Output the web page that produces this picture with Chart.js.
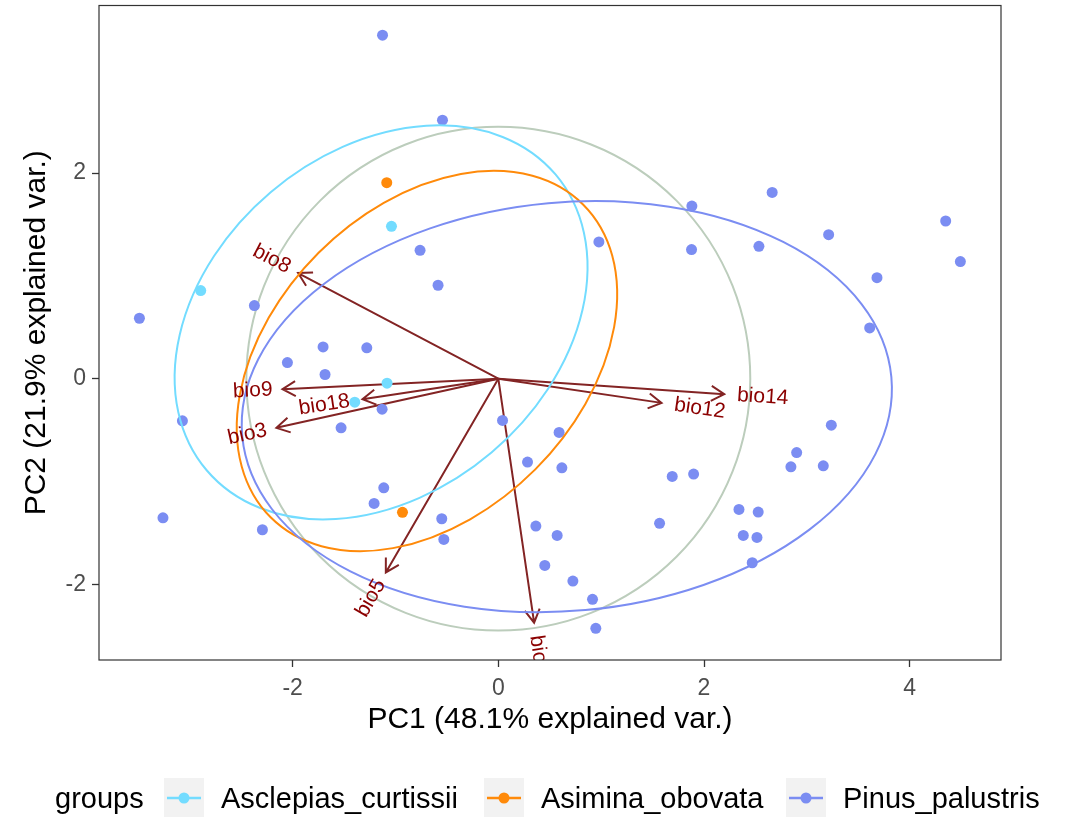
<!DOCTYPE html>
<html>
<head>
<meta charset="utf-8">
<script src="https://cdn.jsdelivr.net/npm/chart.js@4"></script>
<style>
  body { margin: 0; background: #fff; }
  #wrap { width: 1074px; height: 817px; }
</style>
</head>
<body>
<div id="wrap"><canvas id="pca-chart"></canvas></div>
<script>
// groups + colours
const groups = ['Asclepias_curtissii', 'Asimina_obovata', 'Pinus_palustris'];
const groupColors = ['#73DCFF', '#FF8A0A', '#7B8DF2'];

// sample scores (PC1, PC2)
const asclepiasPC1 = [-1.039, -2.894, -1.082, -1.396];
const asclepiasPC2 = [1.482, 0.857, -0.044, -0.228];
const asiminaPC1 = [-1.085, -0.932];
const asiminaPC2 = [1.907, -1.300];
const pinusPC1 = [-1.126, -0.543, -0.761, -0.586, -2.372, -3.490, 1.882, 2.663, 0.978, 1.879,
  2.534, 3.212, 4.350, 4.493, 3.682, 3.611, -1.704, -1.279, -2.051, -1.685,
  -1.130, -1.529, -3.072, 0.041, -1.114, -1.208, -0.550, -0.530, -3.261, -2.294,
  0.591, 0.284, 0.618, 1.691, 1.899, 1.568, 0.365, 0.572, 0.452, 0.725,
  0.916, 0.948, 3.238, 2.901, 2.845, 3.160, 2.340, 2.527, 2.382, 2.515, 2.469];
const pinusPC2 = [3.341, 2.515, 1.249, 0.909, 0.711, 0.588, 1.679, 1.812, 1.330, 1.256,
  1.288, 1.401, 1.534, 1.139, 0.983, 0.494, 0.309, 0.300, 0.157, 0.041,
  -0.296, -0.478, -0.410, -0.406, -1.061, -1.213, -1.362, -1.563, -1.353, -1.469,
  -0.523, -0.811, -0.867, -0.951, -0.928, -1.407, -1.433, -1.524, -1.816, -1.968,
  -2.146, -2.428, -0.452, -0.718, -0.857, -0.847, -1.272, -1.297, -1.524, -1.544, -1.790];

// variable loadings (arrow tips)
const varNames = ['bio8', 'bio9', 'bio18', 'bio3', 'bio5', 'bio15', 'bio12', 'bio14'];
const varPC1 = [-1.947, -2.099, -1.321, -2.158, -1.094, 0.348, 1.587, 2.197];
const varPC2 = [1.028, -0.102, -0.199, -0.478, -1.884, -2.373, -0.235, -0.151];

// group ellipses: centre, semi axes, tilt (deg), one per group
const ellipseCX = [-1.140, -0.694, 0.666];
const ellipseCY = [0.548, 0.172, -0.272];
const ellipseA = [2.224, 2.150, 3.169];
const ellipseB = [1.660, 1.490, 1.987];
const ellipseAngle = [40.3, 45.0, 5.2];
const circleRadius = 2.45;

const xTicks = [-2, 0, 2, 4];
const yTicks = [-2, 0, 2];

const FONT = "'Liberation Sans', Arial, Helvetica, sans-serif";

function toPoints(xs, ys) {
  return xs.map(function(v, i) { return {x: v, y: ys[i]}; });
}

const pcaOverlay = {
  id: 'pcaOverlay',
  beforeDatasetsDraw: function(chart) {
    const ctx = chart.ctx, xs = chart.scales.x, ys = chart.scales.y, area = chart.chartArea;
    ctx.save();
    ctx.beginPath();
    ctx.rect(area.left, area.top, area.right - area.left, area.bottom - area.top);
    ctx.clip();
    // correlation circle
    drawEllipse(chart, 0, 0, circleRadius, circleRadius, 0, '#BCCDBC');
    // arrows
    const x0 = xs.getPixelForValue(0), y0 = ys.getPixelForValue(0);
    ctx.strokeStyle = '#832424';
    ctx.lineWidth = 2;
    ctx.lineCap = 'butt';
    for (let i = 0; i < varNames.length; i++) {
      const x1 = xs.getPixelForValue(varPC1[i]), y1 = ys.getPixelForValue(varPC2[i]);
      const ang = Math.atan2(y1 - y0, x1 - x0);
      const len = 15, spread = Math.PI / 6;
      ctx.beginPath();
      ctx.moveTo(x0, y0);
      ctx.lineTo(x1, y1);
      ctx.moveTo(x1 - len * Math.cos(ang - spread), y1 - len * Math.sin(ang - spread));
      ctx.lineTo(x1, y1);
      ctx.lineTo(x1 - len * Math.cos(ang + spread), y1 - len * Math.sin(ang + spread));
      ctx.stroke();
    }
    ctx.restore();
  },
  afterDatasetsDraw: function(chart) {
    const ctx = chart.ctx, xs = chart.scales.x, ys = chart.scales.y, area = chart.chartArea;
    ctx.save();
    ctx.beginPath();
    ctx.rect(area.left, area.top, area.right - area.left, area.bottom - area.top);
    ctx.clip();
    for (let g = 0; g < groups.length; g++) {
      drawEllipse(chart, ellipseCX[g], ellipseCY[g], ellipseA[g], ellipseB[g], ellipseAngle[g], groupColors[g]);
    }
    // variable names, ggbiplot style (rotated, pushed out past the tip)
    const x0 = xs.getPixelForValue(0), y0 = ys.getPixelForValue(0);
    ctx.font = '21px ' + FONT;
    ctx.fillStyle = '#8B0000';
    ctx.textBaseline = 'middle';
    ctx.textAlign = 'left';
    for (let i = 0; i < varNames.length; i++) {
      const x1 = xs.getPixelForValue(varPC1[i]), y1 = ys.getPixelForValue(varPC2[i]);
      const rot = Math.atan((y1 - y0) / (x1 - x0));
      const w = ctx.measureText(varNames[i]).width;
      const hjust = (1 - 1.5 * Math.sign(varPC1[i])) / 2;
      ctx.save();
      ctx.translate(x1, y1);
      ctx.rotate(rot);
      ctx.fillText(varNames[i], -hjust * w, 0);
      ctx.restore();
    }
    ctx.restore();
  },
  afterDraw: function(chart) {
    const ctx = chart.ctx, area = chart.chartArea;
    ctx.save();
    // panel border
    ctx.strokeStyle = '#333333';
    ctx.lineWidth = 1.2;
    ctx.strokeRect(area.left, area.top, area.right - area.left, area.bottom - area.top);
    // legend along the bottom
    const keyX = [164, 484, 786];
    const keyTop = 778, keySize = 40;
    ctx.font = '29px ' + FONT;
    ctx.fillStyle = '#000';
    ctx.textBaseline = 'alphabetic';
    ctx.textAlign = 'left';
    ctx.fillText('groups', 55, 808);
    for (let g = 0; g < groups.length; g++) {
      ctx.fillStyle = '#F2F2F2';
      ctx.fillRect(keyX[g], keyTop, keySize, keySize);
      ctx.strokeStyle = groupColors[g];
      ctx.lineWidth = 2.5;
      ctx.beginPath();
      ctx.moveTo(keyX[g] + 3, keyTop + keySize / 2);
      ctx.lineTo(keyX[g] + keySize - 3, keyTop + keySize / 2);
      ctx.stroke();
      ctx.fillStyle = groupColors[g];
      ctx.beginPath();
      ctx.arc(keyX[g] + keySize / 2, keyTop + keySize / 2, 5.5, 0, Math.PI * 2);
      ctx.fill();
      ctx.fillStyle = '#000';
      ctx.fillText(groups[g], keyX[g] + keySize + 17, 808);
    }
    ctx.restore();
  }
};

function drawEllipse(chart, cx, cy, a, b, angleDeg, color) {
  const ctx = chart.ctx, xs = chart.scales.x, ys = chart.scales.y;
  const px = xs.getPixelForValue(cx), py = ys.getPixelForValue(cy);
  const ux = xs.getPixelForValue(1) - xs.getPixelForValue(0);
  const uy = ys.getPixelForValue(0) - ys.getPixelForValue(1);
  ctx.save();
  ctx.beginPath();
  ctx.translate(px, py);
  ctx.scale(ux, -uy);
  ctx.rotate(angleDeg * Math.PI / 180);
  ctx.ellipse(0, 0, a, b, 0, 0, Math.PI * 2);
  ctx.setTransform(1, 0, 0, 1, 0, 0);
  ctx.strokeStyle = color;
  ctx.lineWidth = 2;
  ctx.stroke();
  ctx.restore();
}

new Chart(document.getElementById('pca-chart'), {
  type: 'scatter',
  data: {
    datasets: [
      { label: groups[0], data: toPoints(asclepiasPC1, asclepiasPC2), backgroundColor: groupColors[0] },
      { label: groups[1], data: toPoints(asiminaPC1, asiminaPC2), backgroundColor: groupColors[1] },
      { label: groups[2], data: toPoints(pinusPC1, pinusPC2), backgroundColor: groupColors[2] }
    ]
  },
  options: {
    responsive: true,
    maintainAspectRatio: false,
    animation: false,
    layout: { padding: { left: 0, top: 5, right: 73, bottom: 72 } },
    elements: { point: { radius: 5.5, borderWidth: 0, hoverRadius: 5.5 } },
    plugins: {
      legend: { display: false },
      tooltip: { enabled: false }
    },
    scales: {
      x: {
        type: 'linear',
        min: -3.883,
        max: 4.888,
        afterBuildTicks: function(scale) { scale.ticks = xTicks.map(function(v) { return {value: v}; }); },
        afterFit: function(scale) { scale.height = 85; scale.paddingLeft = 0; scale.paddingRight = 0; },
        grid: { drawOnChartArea: false, tickLength: 7, tickColor: '#333333', tickWidth: 1.3 },
        border: { display: false },
        ticks: { color: '#4D4D4D', font: { family: FONT, size: 23 }, padding: 8, maxRotation: 0 },
        title: { display: true, text: 'PC1 (48.1% explained var.)', color: '#000', font: { family: FONT, size: 30 }, padding: { top: 0, bottom: 7 } }
      },
      y: {
        type: 'linear',
        min: -2.736,
        max: 3.63,
        afterBuildTicks: function(scale) { scale.ticks = yTicks.map(function(v) { return {value: v}; }); },
        afterFit: function(scale) { scale.width = 99; scale.paddingTop = 0; scale.paddingBottom = 0; },
        grid: { drawOnChartArea: false, tickLength: 7, tickColor: '#333333', tickWidth: 1.3 },
        border: { display: false },
        ticks: { color: '#4D4D4D', font: { family: FONT, size: 23 }, padding: 6 },
        title: { display: true, text: 'PC2 (21.9% explained var.)', color: '#000', font: { family: FONT, size: 30 }, padding: { top: 19, bottom: 0 } }
      }
    }
  },
  plugins: [pcaOverlay]
});
</script>
</body>
</html>
